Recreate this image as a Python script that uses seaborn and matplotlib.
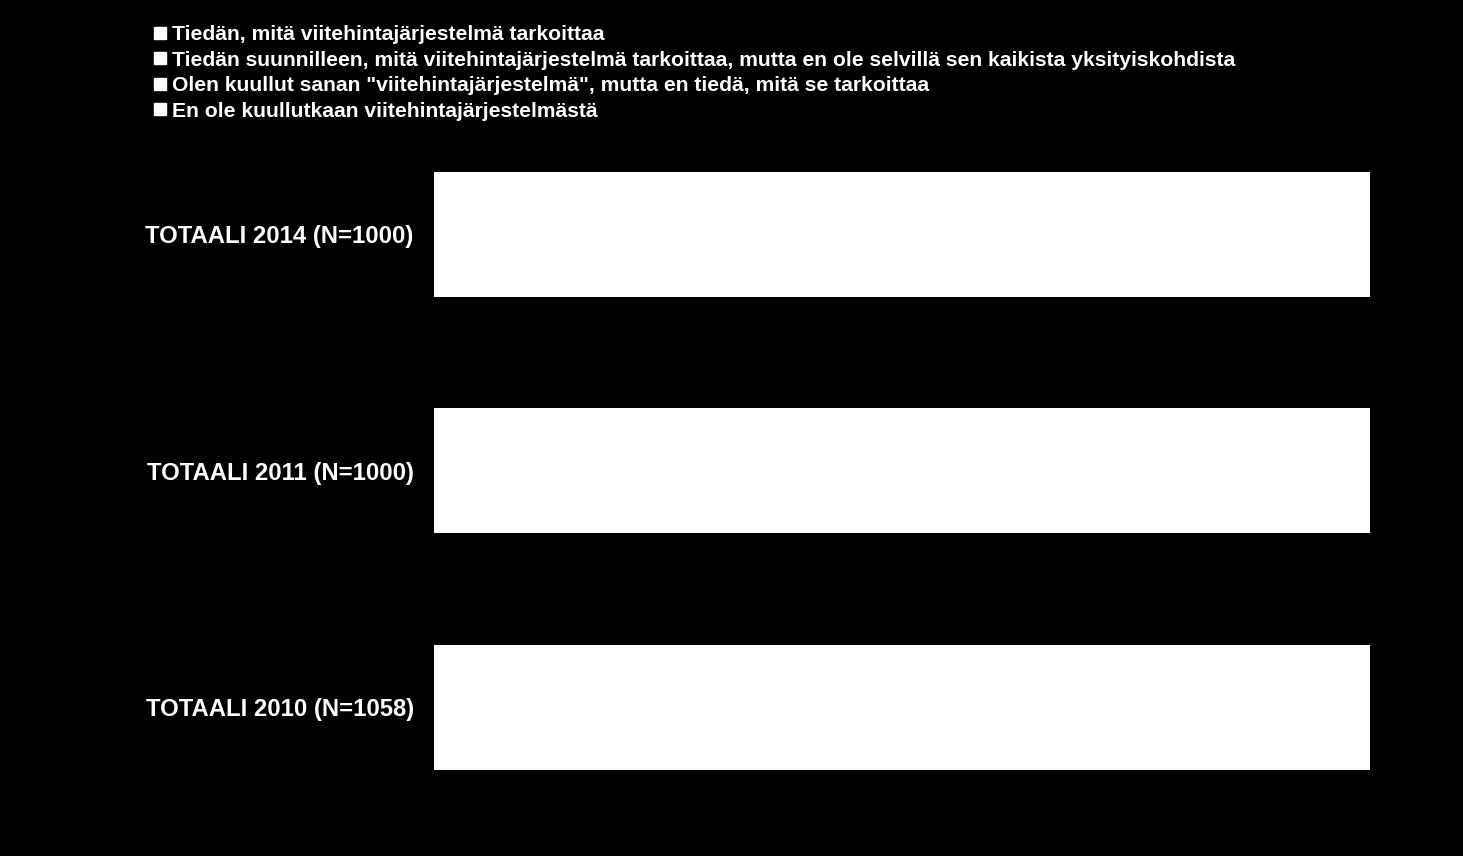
import matplotlib
matplotlib.use("Agg")
import matplotlib.pyplot as plt
from matplotlib.lines import Line2D
import seaborn as sns
import pandas as pd
import numpy as np

categories = ["TOTAALI 2014 (N=1000)", "TOTAALI 2011 (N=1000)", "TOTAALI 2010 (N=1058)"]
series_names = [
    "Tiedän, mitä viitehintajärjestelmä tarkoittaa",
    "Tiedän suunnilleen, mitä viitehintajärjestelmä tarkoittaa, mutta en ole selvillä sen kaikista yksityiskohdista",
    'Olen kuullut sanan "viitehintajärjestelmä", mutta en tiedä, mitä se tarkoittaa',
    "En ole kuullutkaan viitehintajärjestelmästä",
]
# estimated shares (%) per category, segments are not distinguishable in the picture
s1 = [32, 30, 27]
s2 = [44, 45, 46]
s3 = [15, 16, 17]
s4 = [9, 9, 10]
colors = ["#ffffff", "#ffffff", "#ffffff", "#ffffff"]

sns.set_theme(style="white")
plt.rcParams["font.family"] = ["Liberation Sans", "DejaVu Sans"]

fig = plt.figure(figsize=(14.63, 8.56), dpi=100, facecolor="black")
ax = fig.add_axes([434 / 1463, 0.0354, (1370 - 434) / 1463, 0.8288])
ax.set_facecolor("black")

series = [s1, s2, s3, s4]
cum = np.cumsum(np.array(series), axis=0)
# draw from the largest cumulative sum down so each segment shows
for i in range(len(series) - 1, -1, -1):
    df = pd.DataFrame({"cat": categories, "val": cum[i]})
    sns.barplot(data=df, x="val", y="cat", orient="h", color=colors[i],
                width=0.5285, ax=ax, linewidth=0, saturation=1)

ax.set_xlim(0, 100)
ax.set_ylim(2.5, -0.5)
ax.set_xlabel("")
ax.set_ylabel("")
ax.set_xticks([])
for sp in ax.spines.values():
    sp.set_visible(False)
ax.tick_params(axis="y", length=0, pad=14.5, labelcolor="white", labelsize=17.2)
for t in ax.get_yticklabels():
    t.set_fontweight("bold")

handles = [Line2D([0], [0], marker="s", color="none", markerfacecolor=c,
                  markeredgecolor=c, markersize=9) for c in colors]
leg = fig.legend(handles, series_names, loc="upper left",
                 bbox_to_anchor=(153 / 1463, 1 - 25 / 856), frameon=False,
                 handlelength=0.7, handletextpad=0.2, labelspacing=0.31,
                 borderaxespad=0, borderpad=0,
                 prop={"weight": "bold", "size": 15.2})
for t in leg.get_texts():
    t.set_color("white")

fig.savefig("out.png", dpi=100, facecolor="black")
